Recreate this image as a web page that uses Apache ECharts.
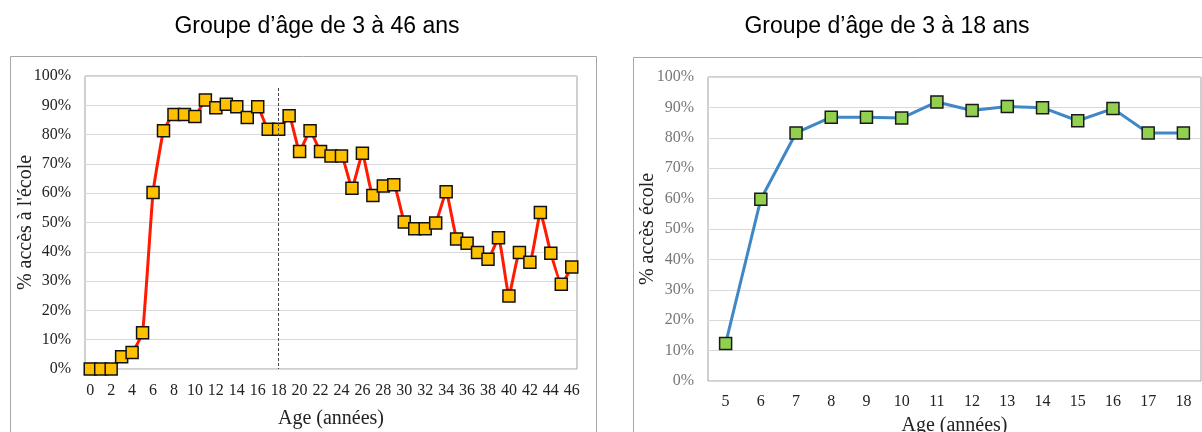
<!DOCTYPE html>
<html>
<head>
<meta charset="utf-8">
<title>Accès à l'école selon l'âge</title>
<script src="https://cdn.jsdelivr.net/npm/echarts@6/dist/echarts.min.js"></script>
<style>
  html, body { margin: 0; padding: 0; background: #fff; }
  #chart { width: 1202px; height: 432px; }
</style>
</head>
<body>
<div id="chart"></div>
<script>
// groupe 3-46 ans
const agesAll = ['0','1','2','3','4','5','6','7','8','9','10','11','12','13','14','15','16','17','18','19','20','21','22','23',
  '24','25','26','27','28','29','30','31','32','33','34','35','36','37','38','39','40','41','42','43','44','45','46']
const accesAll = [0, 0, 0, 4.2, 5.6, 12.4, 60.2, 81.3, 86.9, 86.9, 86.2, 91.8, 89.2, 90.4, 89.5, 85.8, 89.5, 81.8, 81.8,
  86.4, 74.2, 81.3, 74.2, 72.7, 72.7, 61.7, 73.6, 59.2, 62.5, 62.9, 50.2, 47.9, 47.9, 49.8, 60.5,
  44.4, 42.9, 39.8, 37.5, 44.8, 24.9, 39.8, 36.4, 53.4, 39.5, 28.9, 34.8]

// groupe 3-18 ans
const agesEnfants = ['5','6','7','8','9','10','11','12','13','14','15','16','17','18']
const accesEnfants = [12.3, 59.8, 81.6, 86.8, 86.8, 86.5, 91.8, 89.0, 90.3, 89.9, 85.6, 89.6, 81.6, 81.6]

const titles = ['Groupe d\u2019âge de 3 à 46 ans', 'Groupe d\u2019âge de 3 à 18 ans']
const xName = 'Age (années)'
const yNames = ['% accès à l\'école', '% accès école']

const serif = '"Liberation Serif", "Times New Roman", serif'
const sans = '"Liberation Sans", Arial, sans-serif'

const chart = echarts.init(document.getElementById('chart'))

const pctAxis = (idx, labelColor, gap) => ({
  type: 'value',
  gridIndex: idx,
  min: 0,
  max: 100,
  interval: 10,
  name: yNames[idx],
  nameLocation: 'middle',
  nameGap: gap,
  nameMoveOverlap: false,
  nameTextStyle: { fontFamily: serif, fontSize: 20, color: '#222' },
  axisLine: { show: false },
  axisTick: { show: false },
  axisLabel: { formatter: '{value}%', fontFamily: serif, fontSize: 16, color: labelColor, margin: 14 },
  splitLine: { lineStyle: { color: '#d9d9d9', width: 1 } }
})

const ageAxis = (idx, data, every, gap, margin) => ({
  type: 'category',
  gridIndex: idx,
  data: data,
  boundaryGap: true,
  name: xName,
  nameLocation: 'middle',
  nameGap: gap,
  nameMoveOverlap: false,
  nameTextStyle: { fontFamily: serif, fontSize: 20, color: '#222' },
  axisLine: { show: false },
  axisTick: { show: false },
  axisLabel: { interval: every, fontFamily: serif, fontSize: 16, color: '#222', margin: margin }
})

chart.setOption({
  animation: false,
  title: [{
    text: titles[0],
    left: 312,
    top: 10,
    textAlign: 'center',
    textStyle: { fontFamily: sans, fontSize: 23, fontWeight: 'normal', color: '#000' }
  }, {
    text: titles[1],
    left: 882,
    top: 10,
    textAlign: 'center',
    textStyle: { fontFamily: sans, fontSize: 23, fontWeight: 'normal', color: '#000' }
  }],
  graphic: [{
    type: 'rect',
    shape: { x: 10.5, y: 56.5, width: 586, height: 420 },
    style: { fill: 'none', stroke: '#a6a6a6', lineWidth: 1 },
    silent: true
  }, {
    type: 'rect',
    shape: { x: 633.5, y: 57.5, width: 600, height: 420 },
    style: { fill: 'none', stroke: '#a6a6a6', lineWidth: 1 },
    silent: true
  }],
  grid: [
    { left: 85, top: 76, width: 492, height: 293, outerBoundsMode: 'none', show: true, borderColor: '#a0a0a0', borderWidth: 1 },
    { left: 708, top: 77, width: 493, height: 304, outerBoundsMode: 'none', show: true, borderColor: '#a0a0a0', borderWidth: 1 }
  ],
  xAxis: [
    ageAxis(0, agesAll, 1, 40, 14),
    ageAxis(1, agesEnfants, 0, 35, 13)
  ],
  yAxis: [
    pctAxis(0, '#222', 49),
    pctAxis(1, '#777', 50)
  ],
  series: [{
    type: 'line',
    xAxisIndex: 0,
    yAxisIndex: 0,
    data: accesAll,
    smooth: 0.12,
    showAllSymbol: true,
    symbol: 'rect',
    symbolSize: 12,
    lineStyle: { color: '#ff1a00', width: 3 },
    itemStyle: { color: '#ffc000', borderColor: '#111', borderWidth: 1.5 },
    markLine: {
      silent: true,
      symbol: 'none',
      label: { show: false },
      lineStyle: { color: '#444', type: [3, 2], width: 1 },
      data: [[{ xAxis: '18', y: 88 }, { xAxis: '18', yAxis: 0 }]]
    },
    z: 3
  }, {
    type: 'line',
    xAxisIndex: 1,
    yAxisIndex: 1,
    data: accesEnfants,
    showAllSymbol: true,
    symbol: 'rect',
    symbolSize: 12,
    lineStyle: { color: '#3f87c5', width: 3 },
    itemStyle: { color: '#92d050', borderColor: '#1a1a1a', borderWidth: 1.5 },
    z: 3
  }]
})
</script>
</body>
</html>
